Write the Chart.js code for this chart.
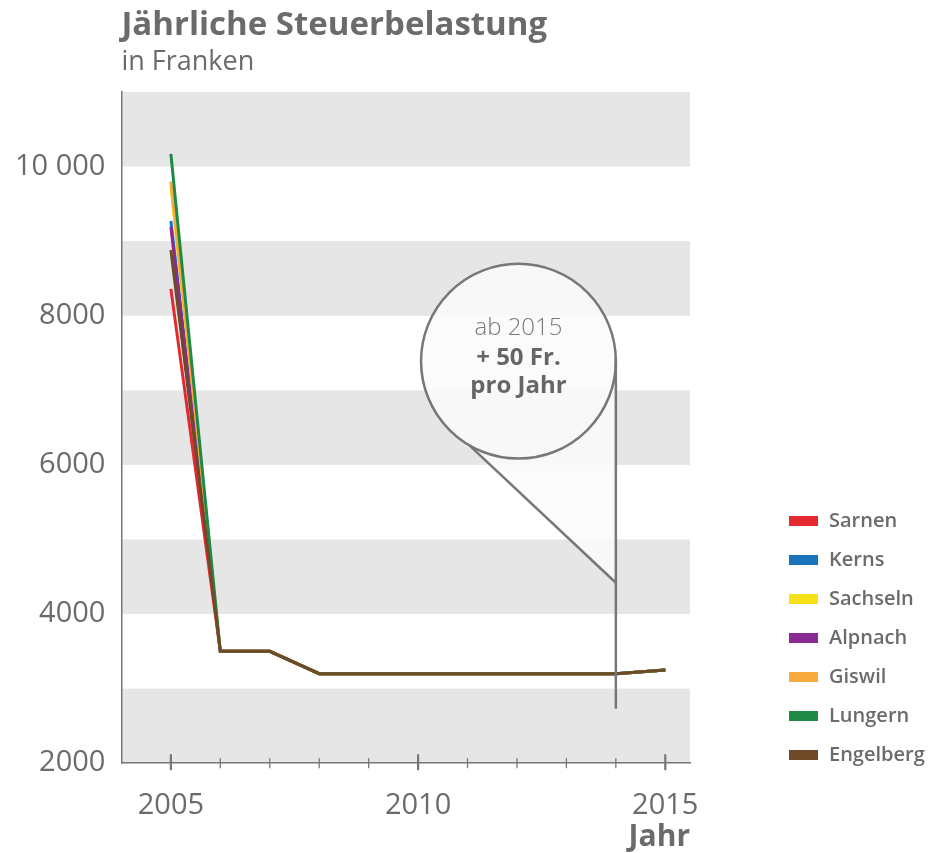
<!DOCTYPE html>
<html><head><meta charset="utf-8">
<script src="https://cdn.jsdelivr.net/npm/chart.js@4/dist/chart.umd.min.js"></script>
<style>html,body{margin:0;padding:0;background:#fff}</style>
</head><body>
<canvas id="c" width="938" height="853"></canvas>
<script>
// ---- data ----
const years = [2005, 2006, 2007, 2008, 2009, 2010, 2011, 2012, 2013, 2014, 2015];
const seriesNames = ['Sarnen', 'Kerns', 'Sachseln', 'Alpnach', 'Giswil', 'Lungern', 'Engelberg'];
const sarnen    = [8360, 3500, 3500, 3200, 3200, 3200, 3200, 3200, 3200, 3200, 3250];
const kerns     = [9270, 3500, 3500, 3200, 3200, 3200, 3200, 3200, 3200, 3200, 3250];
const sachseln  = [9750, 3500, 3500, 3200, 3200, 3200, 3200, 3200, 3200, 3200, 3250];
const alpnach   = [9190, 3500, 3500, 3200, 3200, 3200, 3200, 3200, 3200, 3200, 3250];
const giswil    = [9800, 3500, 3500, 3200, 3200, 3200, 3200, 3200, 3200, 3200, 3250];
const lungern   = [10170, 3500, 3500, 3200, 3200, 3200, 3200, 3200, 3200, 3200, 3250];
const engelberg = [8880, 3500, 3500, 3200, 3200, 3200, 3200, 3200, 3200, 3200, 3250];
const yTickLabels = {2000: '2000', 4000: '4000', 6000: '6000', 8000: '8000', 10000: '10 000'};
const xTickLabels = {2005: '2005', 2010: '2010', 2015: '2015'};
const calloutLines = ['ab 2015', '+ 50 Fr.', 'pro Jahr'];
const calloutYear = 2014;
const calloutCenterYear = 2012.03;
const calloutCenterValue = 7390;
const calloutTipValue = 4420;
const calloutBottomValue = 2730;

const colors = ['#e4282f', '#1a72bd', '#f7e21a', '#8a2a93', '#f8ab3d', '#1f8a45', '#6e4a28'];
const allValues = [sarnen, kerns, sachseln, alpnach, giswil, lungern, engelberg];

const FONT = "'Open Sans', 'DejaVu Sans', sans-serif";
const GREY = '#6b6b6b';

const bandsPlugin = {
  id: 'bands',
  beforeDraw(chart) {
    const {ctx, chartArea: a, scales: {y}} = chart;
    ctx.save();
    ctx.fillStyle = '#e6e6e6';
    for (let v = 2000; v < 11000; v += 2000) {
      const top = y.getPixelForValue(v + 1000), bot = y.getPixelForValue(v);
      ctx.fillRect(a.left, top, a.right - a.left, bot - top);
    }
    ctx.restore();
  }
};

const calloutPlugin = {
  id: 'callout',
  afterDatasetsDraw(chart) {
    const {ctx, scales: {x, y}} = chart;
    const lx = x.getPixelForValue(calloutYear);
    const cx = x.getPixelForValue(calloutCenterYear);
    const r = lx - cx;
    const cy = y.getPixelForValue(calloutCenterValue);
    const tipY = y.getPixelForValue(calloutTipValue);
    const botY = y.getPixelForValue(calloutBottomValue);
    const ang = 120 * Math.PI / 180;
    const tx = cx + r * Math.cos(ang), ty = cy + r * Math.sin(ang);
    ctx.save();
    ctx.fillStyle = 'rgba(250,250,252,0.88)';
    ctx.beginPath();
    ctx.arc(cx, cy, r, 0, Math.PI * 2, false);
    ctx.moveTo(tx, ty);
    ctx.lineTo(cx, cy);
    ctx.lineTo(lx, cy);
    ctx.lineTo(lx, tipY);
    ctx.closePath();
    ctx.fill('nonzero');
    ctx.strokeStyle = '#777777';
    ctx.lineWidth = 2.5;
    ctx.beginPath();
    ctx.arc(cx, cy, r, 0, Math.PI * 2);
    ctx.stroke();
    ctx.beginPath();
    ctx.moveTo(tx, ty);
    ctx.lineTo(lx, tipY);
    ctx.stroke();
    ctx.beginPath();
    ctx.moveTo(lx, cy - 3);
    ctx.lineTo(lx, botY);
    ctx.stroke();
    ctx.textAlign = 'center';
    ctx.textBaseline = 'middle';
    ctx.fillStyle = '#7a7a7a';
    ctx.font = `300 24px ${FONT}`;
    ctx.fillText(calloutLines[0], cx, cy - 33);
    ctx.fillStyle = '#666666';
    ctx.font = `bold 24px ${FONT}`;
    ctx.fillText(calloutLines[1], cx, cy - 3);
    ctx.fillText(calloutLines[2], cx, cy + 25);
    ctx.restore();
  }
};

const ticksPlugin = {
  id: 'xticks',
  afterDraw(chart) {
    const {ctx, chartArea: a, scales: {x}} = chart;
    ctx.save();
    ctx.strokeStyle = '#777777';
    years.forEach(yr => {
      const px = x.getPixelForValue(yr);
      const major = yr % 5 === 0;
      ctx.lineWidth = major ? 2.2 : 1.3;
      ctx.beginPath();
      ctx.moveTo(px, a.bottom - (major ? 9 : 5));
      ctx.lineTo(px, a.bottom + (major ? 7 : 5));
      ctx.stroke();
    });
    ctx.restore();
  }
};

const legendPlugin = {
  id: 'sideLegend',
  afterDraw(chart) {
    const {ctx} = chart;
    ctx.save();
    ctx.font = `600 20px ${FONT}`;
    ctx.textBaseline = 'middle';
    ctx.textAlign = 'left';
    chart.data.datasets.forEach((ds, i) => {
      const cy = 521 + i * 39;
      ctx.fillStyle = ds.borderColor;
      ctx.fillRect(789, cy - 5, 29, 10);
      ctx.fillStyle = GREY;
      ctx.fillText(ds.label, 829, cy);
    });
    ctx.restore();
  }
};

new Chart(document.getElementById('c'), {
  type: 'line',
  data: {
    datasets: seriesNames.map((name, i) => ({
      label: name,
      data: years.map((yr, j) => ({x: yr, y: allValues[i][j]})),
      borderColor: colors[i],
      backgroundColor: colors[i],
      borderWidth: 3,
      pointRadius: 0,
      tension: 0,
      order: seriesNames.length - i
    }))
  },
  options: {
    responsive: false,
    animation: false,
    layout: {padding: {left: -1, right: 248, top: 0, bottom: 3}},
    plugins: {
      legend: {display: false},
      tooltip: {enabled: false},
      title: {
        display: true, text: 'Jährliche Steuerbelastung', align: 'start', fullSize: false,
        color: GREY, font: {family: FONT, size: 33, weight: 'bold'}, padding: {top: 6, bottom: 0}
      },
      subtitle: {
        display: true, text: 'in Franken', align: 'start', fullSize: false,
        color: GREY, font: {family: FONT, size: 27, weight: 'normal'}, padding: {top: 1, bottom: 13}
      }
    },
    scales: {
      x: {
        type: 'linear', min: 2004, max: 2015.5,
        grid: {display: false, drawTicks: false},
        border: {display: true, color: '#777777', width: 1.5},
        ticks: {
          stepSize: 1, autoSkip: false, maxRotation: 0, padding: 25, includeBounds: false,
          color: GREY, font: {family: FONT, size: 29},
          callback: v => xTickLabels[v] || ''
        },
        title: {
          display: true, text: 'Jahr', align: 'end', color: GREY,
          font: {family: FONT, size: 30, weight: 'bold'}, padding: {top: -29, bottom: -5}
        }
      },
      y: {
        min: 2000, max: 11000,
        grid: {display: false, drawTicks: false},
        border: {display: true, color: '#777777', width: 1.5},
        ticks: {
          stepSize: 1000, autoSkip: false, padding: 16,
          color: GREY, font: {family: FONT, size: 29},
          callback: v => yTickLabels[v] || ''
        }
      }
    }
  },
  plugins: [bandsPlugin, calloutPlugin, ticksPlugin, legendPlugin]
});
</script>
</body></html>
